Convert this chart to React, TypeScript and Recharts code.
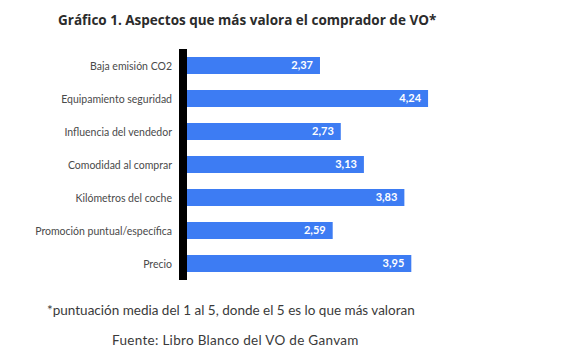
import { BarChart, Bar, XAxis, YAxis, LabelList } from 'recharts';

const aspectos = [
  'Baja emisión CO2',
  'Equipamiento seguridad',
  'Influencia del vendedor',
  'Comodidad al comprar',
  'Kilómetros del coche',
  'Promoción puntual/específica',
  'Precio',
];
const puntuaciones = [2.37, 4.24, 2.73, 3.13, 3.83, 2.59, 3.95];

const titulo = 'Gráfico 1. Aspectos que más valora el comprador de VO*';
const nota = '*puntuación media del 1 al 5, donde el 5 es lo que más valoran';
const fuente = 'Fuente: Libro Blanco del VO de Ganvam';

const data = aspectos.map((name, i) => ({ name, value: puntuaciones[i] }));

const fmt = (v: number) => v.toFixed(2).replace('.', ',');

// plain tick so long labels stay on one line
const LabelTick = (props: any) => {
  const { x, y, payload } = props;
  return (
    <text
      x={x}
      y={y}
      dy={4}
      textAnchor="end"
      fontSize={10.5}
      fill="#4a4a4a"
      fontFamily="Lato, sans-serif"
    >
      {payload.value}
    </text>
  );
};

export default function App() {
  return (
    <div
      style={{
        position: 'absolute',
        left: 0,
        top: 0,
        width: 563,
        height: 363,
        background: '#fff',
        fontFamily: 'Lato, sans-serif',
      }}
    >
      <div
        style={{
          position: 'absolute',
          left: 58,
          top: 11,
          fontFamily: '"Open Sans", sans-serif',
          fontWeight: 700,
          fontSize: 13.5,
          color: '#2b2b2b',
          whiteSpace: 'nowrap',
        }}
      >
        {titulo}
      </div>
      <div style={{ position: 'absolute', left: 0, top: 0 }}>
        <BarChart
          width={563}
          height={363}
          data={data}
          layout="vertical"
          margin={{ top: 49, right: 91, bottom: 83, left: 0 }}
        >
          <XAxis type="number" domain={[0, 5]} hide />
          <YAxis
            type="category"
            dataKey="name"
            width={183}
            tickLine={false}
            tickSize={6}
            tickMargin={5}
            axisLine={{ stroke: '#000', strokeWidth: 8 }}
            tick={<LabelTick />}
            interval={0}
          />
          <Bar dataKey="value" fill="#3d7cf3" barSize={17} isAnimationActive={false}>
            <LabelList
              dataKey="value"
              position="insideRight"
              offset={7}
              formatter={(v: number) => fmt(v)}
              style={{ fill: '#fff', fontWeight: 700, fontSize: 11, fontFamily: 'Lato, sans-serif' }}
            />
          </Bar>
        </BarChart>
      </div>
      <div
        style={{
          position: 'absolute',
          left: 47,
          top: 302,
          fontSize: 13.5,
          color: '#3a3a3a',
          whiteSpace: 'nowrap',
        }}
      >
        {nota}
      </div>
      <div
        style={{
          position: 'absolute',
          left: 112,
          top: 332,
          fontSize: 13.5,
          letterSpacing: 0.3,
          color: '#3a3a3a',
          whiteSpace: 'nowrap',
        }}
      >
        {fuente}
      </div>
    </div>
  );
}
